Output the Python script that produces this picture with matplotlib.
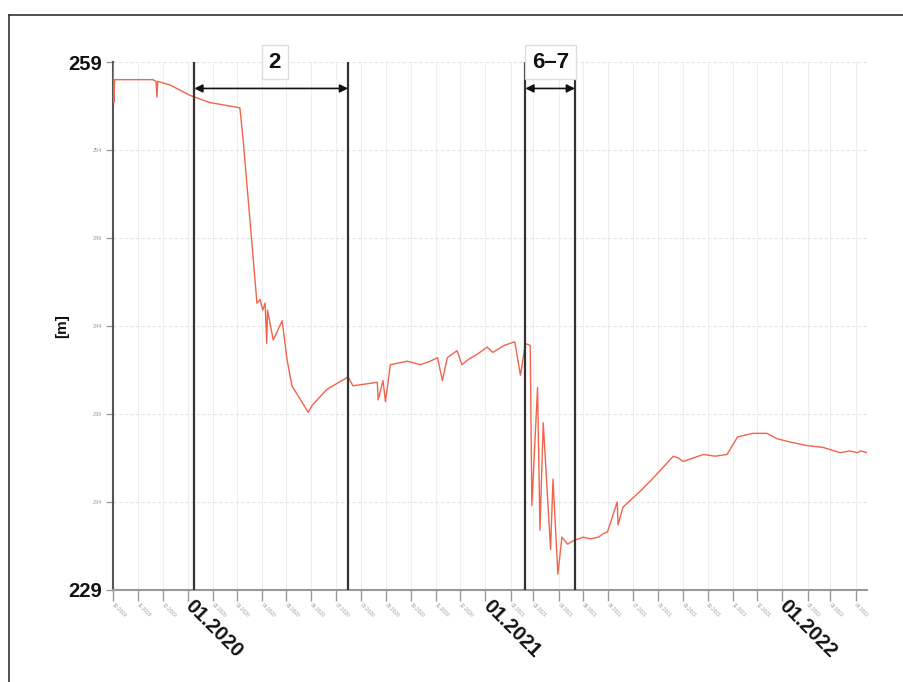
import matplotlib
matplotlib.use('Agg')
import matplotlib.pyplot as plt
from matplotlib.lines import Line2D
import pandas as pd

# Messreihe (Datum, Wasserspiegel [m])
dates = ['2019-10-01', '2019-10-02', '2019-10-03', '2019-11-19', '2019-11-23', '2019-11-24',
         '2019-11-25', '2019-12-10', '2020-01-04', '2020-01-28', '2020-03-05', '2020-03-09',
         '2020-03-26', '2020-03-30', '2020-04-02', '2020-04-05', '2020-04-07', '2020-04-08',
         '2020-04-15', '2020-04-26', '2020-05-02', '2020-05-08', '2020-05-20', '2020-05-28',
         '2020-06-02', '2020-06-12', '2020-06-20', '2020-07-16', '2020-07-22', '2020-08-21',
         '2020-08-22', '2020-08-28', '2020-08-31', '2020-09-06', '2020-09-27', '2020-10-13',
         '2020-10-25', '2020-11-03', '2020-11-09', '2020-11-15', '2020-11-27', '2020-12-03',
         '2020-12-11', '2020-12-22', '2021-01-03', '2021-01-10', '2021-01-24', '2021-02-06',
         '2021-02-13', '2021-02-19', '2021-02-25', '2021-02-27', '2021-03-06', '2021-03-09',
         '2021-03-13', '2021-03-22', '2021-03-25', '2021-03-31', '2021-04-05', '2021-04-12',
         '2021-04-19', '2021-05-01', '2021-05-10', '2021-05-20', '2021-05-26', '2021-05-31',
         '2021-06-12', '2021-06-13', '2021-06-19', '2021-07-10', '2021-07-25', '2021-08-12',
         '2021-08-20', '2021-08-26', '2021-09-01', '2021-09-26', '2021-10-10', '2021-10-25',
         '2021-11-07', '2021-11-26', '2021-12-13', '2021-12-25', '2022-01-11', '2022-02-01',
         '2022-02-20', '2022-03-13', '2022-03-25', '2022-04-03', '2022-04-07', '2022-04-15']
levels = [258.9, 256.7, 258.0, 258.0, 257.9, 257.0,
          257.9, 257.7, 257.1, 256.7, 256.4, 254.6,
          245.3, 245.5, 244.9, 245.3, 243.0, 244.9,
          243.2, 244.3, 242.1, 240.6, 239.7, 239.1,
          239.5, 240.0, 240.4, 241.1, 240.6, 240.8,
          239.8, 240.9, 239.7, 241.8, 242.0, 241.8,
          242.0, 242.2, 240.9, 242.2, 242.6, 241.8,
          242.1, 242.4, 242.8, 242.5, 242.9, 243.1,
          241.2, 243.0, 242.9, 233.8, 240.5, 232.4,
          238.5, 231.3, 235.3, 229.9, 232.0, 231.6,
          231.8, 232.0, 231.9, 232.0, 232.2, 232.3,
          234.0, 232.7, 233.7, 234.6, 235.3, 236.2,
          236.6, 236.5, 236.3, 236.7, 236.6, 236.7,
          237.7, 237.9, 237.9, 237.6, 237.4, 237.2,
          237.1, 236.8, 236.9, 236.8, 236.9, 236.8]

# Phasen-Markierungen
phase_lines = ['2020-01-09', '2020-07-16', '2021-02-19', '2021-04-21']
phase_labels = ['2', '6–7']
y_ticks = [229, 234, 239, 244, 249, 254, 259]

plt.rcParams['font.family'] = ['Liberation Sans', 'DejaVu Sans']

t = pd.to_datetime(dates)
x_start, x_end = pd.Timestamp('2019-10-01'), pd.Timestamp('2022-04-15')

fig = plt.figure(figsize=(9.04, 6.82), dpi=100)
ax = fig.add_axes([0.125, 0.135, 0.834, 0.774])

# Rahmen oben und links
fig.add_artist(Line2D([0.01, 1.0], [0.978, 0.978], color='#333333', lw=1.2, transform=fig.transFigure))
fig.add_artist(Line2D([0.01, 0.01], [0.0, 0.978], color='#333333', lw=1.2, transform=fig.transFigure))

ax.plot(t, levels, color='#f0644c', lw=1.0, zorder=3)

ax.set_xlim(x_start, x_end)
ax.set_ylim(229, 259)

months = pd.date_range('2019-10-01', '2022-04-01', freq='MS')
ax.set_xticks(months)
ax.set_xticklabels([])
ax.tick_params(axis='x', length=8, color='#999999', width=1)
for m in months:
    if m.month == 1:
        ax.annotate(m.strftime('%m.%Y'), xy=(m, 229), xytext=(5, -5), textcoords='offset points',
                    rotation=-45, rotation_mode='anchor', ha='left', va='top',
                    fontsize=14.5, fontweight='bold', color='#111111', annotation_clip=False)
    else:
        ax.annotate(m.strftime('%m.%Y'), xy=(m, 229), xytext=(1, -9), textcoords='offset points',
                    rotation=-45, rotation_mode='anchor', ha='left', va='top',
                    fontsize=3.5, color='#999999', annotation_clip=False)

ax.set_yticks(y_ticks)
ax.set_yticklabels([str(v) for v in y_ticks])
for lab, v in zip(ax.get_yticklabels(), y_ticks):
    if v in (229, 259):
        lab.set_fontsize(14.5)
        lab.set_fontweight('bold')
        lab.set_color('#111111')
    else:
        lab.set_fontsize(4)
        lab.set_color('#999999')
ax.tick_params(axis='y', length=5, color='#999999', width=1, pad=3)
ax.set_ylabel('[m]', fontsize=11, fontweight='bold', color='#111111')
ax.yaxis.set_label_coords(-0.058, 0.5)

ax.grid(True, axis='x', color='#eeeeee', lw=0.8)
ax.grid(True, axis='y', color='#e4e4e4', lw=0.8, linestyle=(0, (3, 2)))
for s in ['top', 'right']:
    ax.spines[s].set_visible(False)
ax.spines['bottom'].set_color('#999999')
ax.spines['bottom'].set_linewidth(1.5)
ax.spines['left'].set_color('#555555')
ax.spines['left'].set_linewidth(1.5)

pl = pd.to_datetime(phase_lines)
for p in pl:
    ax.axvline(p, color='#333333', lw=1.6, zorder=4)

# Pfeile und Beschriftung
label_pos = ['2020-04-17', '2021-03-22']
for (a, b), label, pos in zip([(pl[0], pl[1]), (pl[2], pl[3])], phase_labels, label_pos):
    ax.annotate('', xy=(a, 257.5), xytext=(b, 257.5),
                arrowprops=dict(arrowstyle='<|-|>', color='#111111', lw=1.2,
                                shrinkA=0, shrinkB=0, mutation_scale=12), zorder=5)
    ax.text(pd.Timestamp(pos), 259.0, label, ha='center', va='center', fontsize=16, fontweight='bold',
            color='#111111', zorder=6, clip_on=False,
            bbox=dict(boxstyle='square,pad=0.3', facecolor='white', edgecolor='#dddddd', lw=1))

fig.savefig('out.png', dpi=100)
